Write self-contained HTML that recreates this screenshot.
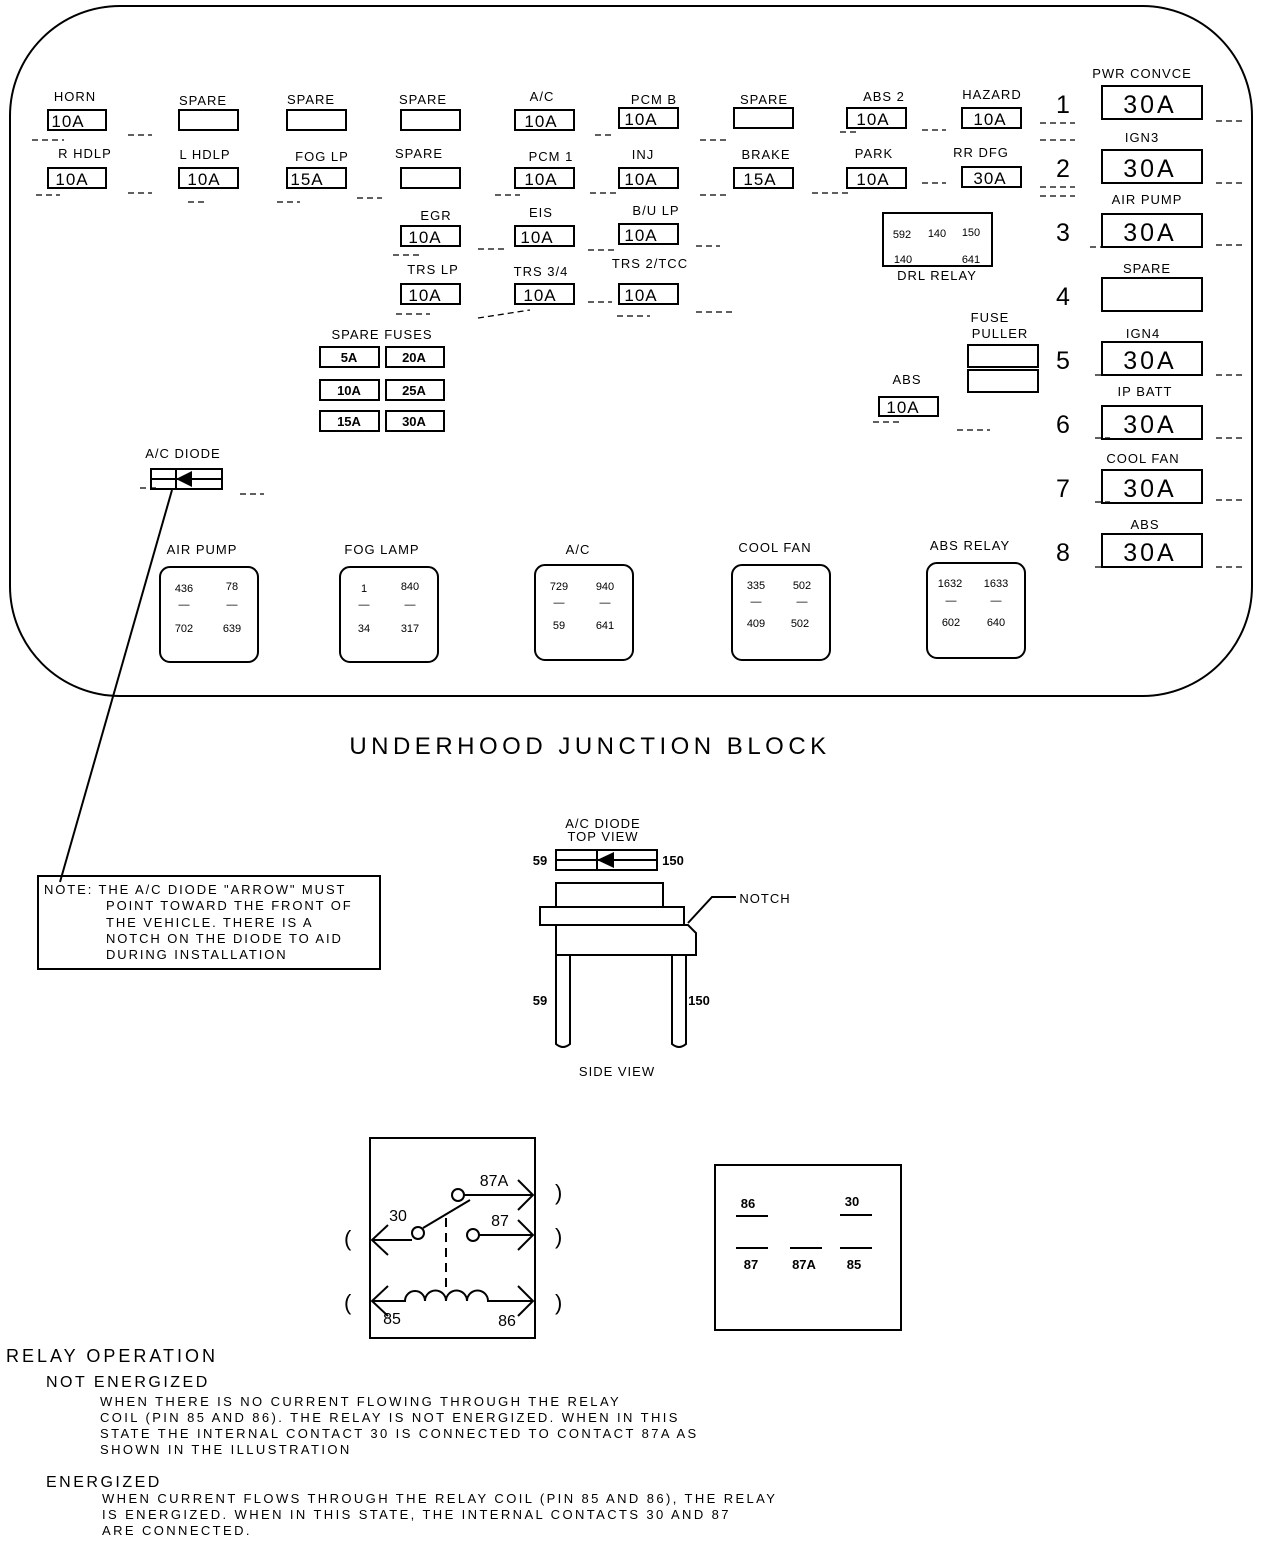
<!DOCTYPE html>
<html><head><meta charset="utf-8"><style>
html,body{margin:0;padding:0;background:#fff}
svg{display:block}
text{font-family:"Liberation Sans",sans-serif;fill:#000}
.l{font-size:13px;text-anchor:middle;letter-spacing:1px}
.f{font-size:17px;text-anchor:middle;letter-spacing:1px}
.b{font-size:25px;text-anchor:middle;letter-spacing:3px}
.s{font-size:13px;font-weight:bold;text-anchor:middle}
.r{font-size:11px;text-anchor:middle}
.t{font-size:13px;letter-spacing:2.4px}
rect{fill:none;stroke:#000;stroke-width:2}
line,path,polyline{stroke:#000;stroke-width:2;fill:none}
.d{stroke-width:1.3;stroke-dasharray:6 4}
</style></head><body>
<svg width="1264" height="1542" viewBox="0 0 1264 1542">
<rect x="10" y="6" width="1242" height="690" rx="110" ry="110"/>
<!-- row 1 -->
<text class="l" x="75" y="101">HORN</text><rect x="48" y="110" width="58" height="20"/><text class="f" x="68" y="127">10A</text>
<text class="l" x="203" y="105">SPARE</text><rect x="179" y="110" width="59" height="20"/>
<text class="l" x="311" y="104">SPARE</text><rect x="287" y="110" width="59" height="20"/>
<text class="l" x="423" y="104">SPARE</text><rect x="401" y="110" width="59" height="20"/>
<text class="l" x="542" y="101">A/C</text><rect x="515" y="110" width="59" height="20"/><text class="f" x="541" y="127">10A</text>
<text class="l" x="654" y="104">PCM B</text><rect x="619" y="108" width="59" height="20"/><text class="f" x="641" y="125">10A</text>
<text class="l" x="764" y="104">SPARE</text><rect x="734" y="108" width="59" height="20"/>
<text class="l" x="884" y="101">ABS 2</text><rect x="847" y="108" width="59" height="20"/><text class="f" x="873" y="125">10A</text>
<text class="l" x="992" y="99">HAZARD</text><rect x="962" y="108" width="59" height="20"/><text class="f" x="990" y="125">10A</text>
<!-- row 2 -->
<text class="l" x="85" y="158">R HDLP</text><rect x="48" y="168" width="58" height="20"/><text class="f" x="72" y="185">10A</text>
<text class="l" x="205" y="159">L HDLP</text><rect x="179" y="168" width="59" height="20"/><text class="f" x="204" y="185">10A</text>
<text class="l" x="322" y="161">FOG LP</text><rect x="287" y="168" width="59" height="20"/><text class="f" x="307" y="185">15A</text>
<text class="l" x="419" y="158">SPARE</text><rect x="401" y="168" width="59" height="20"/>
<text class="l" x="551" y="161">PCM 1</text><rect x="515" y="168" width="59" height="20"/><text class="f" x="541" y="185">10A</text>
<text class="l" x="643" y="159">INJ</text><rect x="619" y="168" width="59" height="20"/><text class="f" x="641" y="185">10A</text>
<text class="l" x="766" y="159">BRAKE</text><rect x="734" y="168" width="59" height="20"/><text class="f" x="760" y="185">15A</text>
<text class="l" x="874" y="158">PARK</text><rect x="847" y="168" width="59" height="20"/><text class="f" x="873" y="185">10A</text>
<text class="l" x="981" y="157">RR DFG</text><rect x="962" y="167" width="59" height="20"/><text class="f" x="990" y="184">30A</text>
<!-- row 3/4 -->
<text class="l" x="436" y="220">EGR</text><rect x="401" y="226" width="59" height="20"/><text class="f" x="425" y="243">10A</text>
<text class="l" x="541" y="217">EIS</text><rect x="515" y="226" width="59" height="20"/><text class="f" x="537" y="243">10A</text>
<text class="l" x="656" y="215">B/U LP</text><rect x="619" y="224" width="59" height="20"/><text class="f" x="641" y="241">10A</text>
<text class="l" x="433" y="274">TRS LP</text><rect x="401" y="284" width="59" height="20"/><text class="f" x="425" y="301">10A</text>
<text class="l" x="541" y="276">TRS 3/4</text><rect x="515" y="284" width="59" height="20"/><text class="f" x="540" y="301">10A</text>
<text class="l" x="650" y="268">TRS 2/TCC</text><rect x="619" y="284" width="59" height="20"/><text class="f" x="641" y="301">10A</text>
<!-- dashes -->
<g class="d">
<line class="d" x1="32" y1="140" x2="64" y2="140"/><line class="d" x1="128" y1="135" x2="152" y2="135"/>
<line class="d" x1="36" y1="195" x2="60" y2="195"/><line class="d" x1="128" y1="193" x2="152" y2="193"/>
<line class="d" x1="188" y1="202" x2="206" y2="202"/><line class="d" x1="277" y1="202" x2="300" y2="202"/><line class="d" x1="357" y1="198" x2="382" y2="198"/>
<line class="d" x1="595" y1="135" x2="615" y2="135"/><line class="d" x1="700" y1="140" x2="730" y2="140"/><line class="d" x1="840" y1="132" x2="860" y2="132"/><line class="d" x1="922" y1="130" x2="946" y2="130"/><line class="d" x1="1040" y1="140" x2="1075" y2="140"/>
<line class="d" x1="495" y1="195" x2="520" y2="195"/><line class="d" x1="590" y1="193" x2="620" y2="193"/><line class="d" x1="700" y1="195" x2="730" y2="195"/><line class="d" x1="812" y1="193" x2="850" y2="193"/><line class="d" x1="922" y1="183" x2="946" y2="183"/><line class="d" x1="1040" y1="196" x2="1075" y2="196"/>
<line class="d" x1="393" y1="255" x2="420" y2="255"/><line class="d" x1="478" y1="249" x2="505" y2="249"/><line class="d" x1="588" y1="250" x2="615" y2="250"/><line class="d" x1="696" y1="246" x2="720" y2="246"/>
<line class="d" x1="396" y1="314" x2="430" y2="314"/><line class="d" x1="478" y1="318" x2="530" y2="310"/><line class="d" x1="588" y1="302" x2="612" y2="302"/><line class="d" x1="617" y1="316" x2="650" y2="316"/><line class="d" x1="696" y1="312" x2="732" y2="312"/>
<line class="d" x1="873" y1="422" x2="900" y2="422"/><line class="d" x1="957" y1="430" x2="990" y2="430"/>
<line class="d" x1="140" y1="488" x2="156" y2="488"/><line class="d" x1="240" y1="494" x2="264" y2="494"/>
</g>
<!-- DRL relay -->
<rect x="883" y="213" width="109" height="53" stroke-width="1.5"/>
<text class="r" x="902" y="238">592</text><text class="r" x="937" y="237">140</text><text class="r" x="971" y="236">150</text>
<text class="r" x="903" y="263">140</text><text class="r" x="971" y="263">641</text>
<text class="l" x="937" y="280">DRL RELAY</text>
<!-- spare fuses -->
<text class="l" x="382" y="339">SPARE FUSES</text>
<rect x="320" y="347" width="59" height="20"/><text class="s" x="349" y="362">5A</text>
<rect x="386" y="347" width="58" height="20"/><text class="s" x="414" y="362">20A</text>
<rect x="320" y="380" width="59" height="20"/><text class="s" x="349" y="395">10A</text>
<rect x="386" y="380" width="58" height="20"/><text class="s" x="414" y="395">25A</text>
<rect x="320" y="411" width="59" height="20"/><text class="s" x="349" y="426">15A</text>
<rect x="386" y="411" width="58" height="20"/><text class="s" x="414" y="426">30A</text>
<!-- fuse puller -->
<text class="l" x="990" y="322">FUSE</text><text class="l" x="1000" y="338">PULLER</text>
<rect x="968" y="345" width="70" height="22"/><rect x="968" y="370" width="70" height="22"/>
<text class="l" x="907" y="384">ABS</text><rect x="879" y="397" width="59" height="19"/><text class="f" x="903" y="413">10A</text>
<!-- right column -->
<g>
<text class="b" x="1063" y="113" style="letter-spacing:0">1</text><text class="l" x="1142" y="78">PWR CONVCE</text><rect x="1102" y="86" width="100" height="33"/><text class="b" x="1150" y="113">30A</text>
<text class="b" x="1063" y="177" style="letter-spacing:0">2</text><text class="l" x="1142" y="142">IGN3</text><rect x="1102" y="150" width="100" height="33"/><text class="b" x="1150" y="177">30A</text>
<text class="b" x="1063" y="241" style="letter-spacing:0">3</text><text class="l" x="1147" y="204">AIR PUMP</text><rect x="1102" y="214" width="100" height="33"/><text class="b" x="1150" y="241">30A</text>
<text class="b" x="1063" y="305" style="letter-spacing:0">4</text><text class="l" x="1147" y="273">SPARE</text><rect x="1102" y="278" width="100" height="33"/>
<text class="b" x="1063" y="369" style="letter-spacing:0">5</text><text class="l" x="1143" y="338">IGN4</text><rect x="1102" y="342" width="100" height="33"/><text class="b" x="1150" y="369">30A</text>
<text class="b" x="1063" y="433" style="letter-spacing:0">6</text><text class="l" x="1145" y="396">IP BATT</text><rect x="1102" y="406" width="100" height="33"/><text class="b" x="1150" y="433">30A</text>
<text class="b" x="1063" y="497" style="letter-spacing:0">7</text><text class="l" x="1143" y="463">COOL FAN</text><rect x="1102" y="470" width="100" height="33"/><text class="b" x="1150" y="497">30A</text>
<text class="b" x="1063" y="561" style="letter-spacing:0">8</text><text class="l" x="1145" y="529">ABS</text><rect x="1102" y="534" width="100" height="33"/><text class="b" x="1150" y="561">30A</text>
</g>
<g class="d">
<line class="d" x1="1040" y1="123" x2="1075" y2="123"/><line class="d" x1="1216" y1="121" x2="1246" y2="121"/>
<line class="d" x1="1040" y1="187" x2="1075" y2="187"/><line class="d" x1="1216" y1="183" x2="1246" y2="183"/>
<line class="d" x1="1090" y1="247" x2="1110" y2="247"/><line class="d" x1="1216" y1="245" x2="1246" y2="245"/>
<line class="d" x1="1095" y1="375" x2="1110" y2="375"/><line class="d" x1="1216" y1="375" x2="1246" y2="375"/>
<line class="d" x1="1095" y1="438" x2="1110" y2="438"/><line class="d" x1="1216" y1="438" x2="1246" y2="438"/>
<line class="d" x1="1095" y1="502" x2="1110" y2="502"/><line class="d" x1="1216" y1="500" x2="1246" y2="500"/>
<line class="d" x1="1095" y1="567" x2="1150" y2="567"/><line class="d" x1="1216" y1="567" x2="1246" y2="567"/>
</g>
<!-- A/C diode -->
<text class="l" x="183" y="458">A/C DIODE</text>
<rect x="151" y="469" width="71" height="20"/>
<line x1="151" y1="479" x2="222" y2="479"/><polygon points="176,479 192,471 192,487" fill="#000"/><line x1="176" y1="469" x2="176" y2="489"/>
<line x1="172" y1="490" x2="60" y2="882" stroke-width="1.3"/>
<!-- relays -->
<g>
<text class="l" x="202" y="554">AIR PUMP</text><rect x="160" y="567" width="98" height="95" rx="10"/>
<text class="r" x="184" y="592">436</text><text class="r" x="232" y="590">78</text><text class="r" x="184" y="632">702</text><text class="r" x="232" y="632">639</text>
<text class="r" x="184" y="608">—</text><text class="r" x="232" y="608">—</text>
<text class="l" x="382" y="554">FOG LAMP</text><rect x="340" y="567" width="98" height="95" rx="10"/>
<text class="r" x="364" y="592">1</text><text class="r" x="410" y="590">840</text><text class="r" x="364" y="632">34</text><text class="r" x="410" y="632">317</text>
<text class="r" x="364" y="608">—</text><text class="r" x="410" y="608">—</text>
<text class="l" x="578" y="554">A/C</text><rect x="535" y="565" width="98" height="95" rx="10"/>
<text class="r" x="559" y="590">729</text><text class="r" x="605" y="590">940</text><text class="r" x="559" y="629">59</text><text class="r" x="605" y="629">641</text>
<text class="r" x="559" y="606">—</text><text class="r" x="605" y="606">—</text>
<text class="l" x="775" y="552">COOL FAN</text><rect x="732" y="565" width="98" height="95" rx="10"/>
<text class="r" x="756" y="589">335</text><text class="r" x="802" y="589">502</text><text class="r" x="756" y="627">409</text><text class="r" x="800" y="627">502</text>
<text class="r" x="756" y="605">—</text><text class="r" x="802" y="605">—</text>
<text class="l" x="970" y="550">ABS RELAY</text><rect x="927" y="563" width="98" height="95" rx="10"/>
<text class="r" x="950" y="587">1632</text><text class="r" x="996" y="587">1633</text><text class="r" x="951" y="626">602</text><text class="r" x="996" y="626">640</text>
<text class="r" x="951" y="604">—</text><text class="r" x="996" y="604">—</text>
</g>
<text x="590" y="754" style="font-size:24px;letter-spacing:4.5px;text-anchor:middle">UNDERHOOD  JUNCTION  BLOCK</text>
<!-- diode views -->
<text class="l" x="603" y="828">A/C DIODE</text><text class="l" x="603" y="841">TOP VIEW</text>
<rect x="556" y="850" width="101" height="20"/><line x1="556" y1="860" x2="657" y2="860"/>
<polygon points="597,860 614,852 614,868" fill="#000"/><line x1="597" y1="850" x2="597" y2="870"/>
<text class="s" x="540" y="865">59</text><text class="s" x="673" y="865">150</text>
<rect x="556" y="883" width="107" height="24"/>
<rect x="540" y="907" width="144" height="18"/>
<path d="M556 925 H688 L696 933 V955 H556 Z"/>
<path d="M556 955 V1044 Q563 1050 570 1044 V955 M672 955 V1044 Q679 1050 686 1044 V955"/>
<polyline points="688,923 712,897 736,897" stroke-width="1.3"/>
<text class="l" x="765" y="903">NOTCH</text>
<text class="s" x="540" y="1005">59</text><text class="s" x="699" y="1005">150</text>
<text class="l" x="617" y="1076">SIDE VIEW</text>
<!-- note -->
<rect x="38" y="876" width="342" height="93"/>
<text class="t" x="44" y="894" style="letter-spacing:1.9px">NOTE: THE A/C DIODE "ARROW" MUST</text>
<text class="t" x="106" y="910" style="letter-spacing:1.9px">POINT TOWARD THE FRONT OF</text>
<text class="t" x="106" y="927" style="letter-spacing:1.9px">THE VEHICLE. THERE IS A</text>
<text class="t" x="106" y="943" style="letter-spacing:1.9px">NOTCH ON THE DIODE TO AID</text>
<text class="t" x="106" y="959" style="letter-spacing:1.9px">DURING INSTALLATION</text>
<!-- relay diagram -->
<rect x="370" y="1138" width="165" height="200" stroke-width="3"/>
<line x1="372" y1="1240" x2="412" y2="1240"/><circle cx="418" cy="1233" r="6" fill="none" stroke="#000" stroke-width="2"/>
<line x1="423" y1="1228" x2="470" y2="1200"/>
<circle cx="458" cy="1195" r="6" fill="none" stroke="#000" stroke-width="2"/><line x1="464" y1="1195" x2="533" y2="1195"/>
<circle cx="473" cy="1235" r="6" fill="none" stroke="#000" stroke-width="2"/><line x1="479" y1="1235" x2="533" y2="1235"/>
<line x1="446" y1="1218" x2="446" y2="1292" stroke-width="3" stroke-dasharray="9 6"/>
<path d="M372 1301 H405 a10 10 0 0 1 20 0 a10 10 0 0 1 21 0 a10 10 0 0 1 21 0 a10 10 0 0 1 21 0 H533"/>
<polyline points="388,1225 372,1240 388,1255"/><polyline points="518,1180 533,1195 518,1210"/><polyline points="518,1220 533,1235 518,1250"/>
<polyline points="388,1286 372,1301 388,1316"/><polyline points="518,1286 533,1301 518,1316"/>
<text x="398" y="1221" style="font-size:16px;text-anchor:middle">30</text>
<text x="494" y="1186" style="font-size:16px;text-anchor:middle">87A</text>
<text x="500" y="1226" style="font-size:16px;text-anchor:middle">87</text>
<text x="392" y="1324" style="font-size:16px;text-anchor:middle">85</text>
<text x="507" y="1326" style="font-size:16px;text-anchor:middle">86</text>
<text x="344" y="1246" style="font-size:22px">(</text><text x="344" y="1310" style="font-size:22px">(</text>
<text x="555" y="1200" style="font-size:22px">)</text><text x="555" y="1244" style="font-size:22px">)</text><text x="555" y="1310" style="font-size:22px">)</text>
<rect x="715" y="1165" width="186" height="165"/>
<text class="s" x="748" y="1208">86</text><text class="s" x="852" y="1206">30</text>
<line x1="736" y1="1216" x2="768" y2="1216" stroke-width="1.3"/><line x1="840" y1="1215" x2="872" y2="1215" stroke-width="1.3"/>
<line x1="736" y1="1248" x2="768" y2="1248" stroke-width="1.3"/><line x1="790" y1="1248" x2="822" y2="1248" stroke-width="1.3"/><line x1="840" y1="1248" x2="872" y2="1248" stroke-width="1.3"/>
<text class="s" x="751" y="1269">87</text><text class="s" x="804" y="1269">87A</text><text class="s" x="854" y="1269">85</text>
<!-- text -->
<text x="6" y="1362" style="font-size:18px;letter-spacing:3px">RELAY OPERATION</text>
<text x="46" y="1387" style="font-size:16px;letter-spacing:2.5px">NOT ENERGIZED</text>
<text class="t" x="100" y="1406">WHEN THERE IS NO CURRENT FLOWING THROUGH THE RELAY</text>
<text class="t" x="100" y="1422">COIL (PIN 85 AND 86). THE RELAY IS NOT ENERGIZED.  WHEN IN THIS</text>
<text class="t" x="100" y="1438">STATE THE INTERNAL CONTACT 30 IS CONNECTED TO CONTACT 87A AS</text>
<text class="t" x="100" y="1454">SHOWN IN THE ILLUSTRATION</text>
<text x="46" y="1487" style="font-size:16px;letter-spacing:2.5px">ENERGIZED</text>
<text class="t" x="102" y="1503">WHEN CURRENT FLOWS THROUGH THE RELAY COIL (PIN 85 AND 86), THE RELAY</text>
<text class="t" x="102" y="1519">IS ENERGIZED.  WHEN IN THIS STATE, THE INTERNAL CONTACTS 30 AND 87</text>
<text class="t" x="102" y="1535">ARE CONNECTED.</text>
</svg>
</body></html>
